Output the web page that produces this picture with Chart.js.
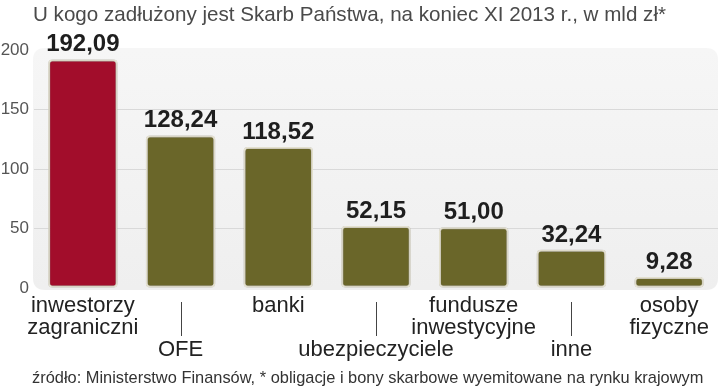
<!DOCTYPE html>
<html>
<head>
<meta charset="utf-8">
<script src="https://cdn.jsdelivr.net/npm/chart.js@4"></script>
<style>
  html, body { margin: 0; padding: 0; background: #fff; }
  #wrap { width: 720px; height: 391px; position: relative; }
</style>
</head>
<body>
<div id="wrap"><canvas id="myChart"></canvas></div>
<script>
'use strict';

let titleText = 'U kogo zadłużony jest Skarb Państwa, na koniec XI 2013 r., w mld zł*';
let sourceText = 'źródło: Ministerstwo Finansów, * obligacje i bony skarbowe wyemitowane na rynku krajowym';

let categories = ['inwestorzy zagraniczni', 'OFE', 'banki', 'ubezpieczyciele', 'fundusze inwestycyjne', 'inne', 'osoby fizyczne'];
// labels as drawn under the bars, every second one pushed down a row
let tickLabels = [
  ['inwestorzy', 'zagraniczni'],
  ['', '', 'OFE'],
  ['banki'],
  ['', '', 'ubezpieczyciele'],
  ['fundusze', 'inwestycyjne'],
  ['', '', 'inne'],
  ['osoby', 'fizyczne']
];
let debtValues = [192.09, 128.24, 118.52, 52.15, 51.00, 32.24, 9.28];
let valueLabels = ['192,09', '128,24', '118,52', '52,15', '51,00', '32,24', '9,28'];
let yTicks = [0, 50, 100, 150, 200];

let red = '#a20d2b';
let olive = '#6a6629';
let barColors = debtValues.map(function (v, i) { return i === 0 ? red : olive; });

function roundRect(ctx, x, y, w, h, r) {
  ctx.beginPath();
  ctx.moveTo(x + r, y);
  ctx.lineTo(x + w - r, y);
  ctx.quadraticCurveTo(x + w, y, x + w, y + r);
  ctx.lineTo(x + w, y + h - r);
  ctx.quadraticCurveTo(x + w, y + h, x + w - r, y + h);
  ctx.lineTo(x + r, y + h);
  ctx.quadraticCurveTo(x, y + h, x, y + h - r);
  ctx.lineTo(x, y + r);
  ctx.quadraticCurveTo(x, y, x + r, y);
  ctx.closePath();
}

let panelPlugin = {
  id: 'panel',
  beforeDraw: function (chart) {
    let ctx = chart.ctx;
    let a = chart.chartArea;
    ctx.save();
    ctx.fillStyle = '#fff';
    ctx.fillRect(0, 0, chart.width, chart.height);
    let g = ctx.createLinearGradient(0, a.top, 0, a.bottom);
    g.addColorStop(0, '#f6f6f6');
    g.addColorStop(1, '#efefef');
    ctx.fillStyle = g;
    roundRect(ctx, a.left - 1, a.top - 2, a.right - a.left + 1, a.bottom - a.top + 4, 12);
    ctx.fill();

    // title and footer
    ctx.fillStyle = '#4a4a4a';
    ctx.font = '20.6px "Liberation Sans", Arial, sans-serif';
    ctx.textBaseline = 'middle';
    ctx.textAlign = 'left';
    ctx.fillText(titleText, 33, 15);
    ctx.fillStyle = '#333';
    ctx.font = '16.4px "Liberation Sans", Arial, sans-serif';
    ctx.fillText(sourceText, 32, 378);
    ctx.restore();
  },
  beforeDatasetsDraw: function (chart) {
    let ctx = chart.ctx;
    ctx.save();
    ctx.shadowColor = 'rgba(0,0,0,0.45)';
    ctx.shadowBlur = 3;
  },
  afterDatasetsDraw: function (chart) {
    let ctx = chart.ctx;
    ctx.restore();

    // value labels over the bars
    let meta = chart.getDatasetMeta(0);
    ctx.save();
    ctx.fillStyle = '#1e1e1e';
    ctx.font = 'bold 24px "Liberation Sans", Arial, sans-serif';
    ctx.textAlign = 'center';
    ctx.textBaseline = 'alphabetic';
    for (let i = 0; i < meta.data.length; i++) {
      let bar = meta.data[i];
      ctx.fillText(valueLabels[i], bar.x, bar.y - 8);
    }

    // short separator lines over the lowered labels
    let xScale = chart.scales.x;
    ctx.strokeStyle = '#444';
    ctx.lineWidth = 1;
    for (let i = 0; i < tickLabels.length; i++) {
      if (tickLabels[i][0] !== '') continue;
      let x = Math.round(xScale.getPixelForTick(i)) + 0.5;
      ctx.beginPath();
      ctx.moveTo(x, 302);
      ctx.lineTo(x, 336);
      ctx.stroke();
    }
    ctx.restore();
  }
};

function viewChart() {
  let ctx = document.getElementById('myChart').getContext('2d');

  let chart = new Chart(ctx, {
    type: 'bar',
    data: {
      labels: tickLabels,
      datasets: [
        {
          label: 'mld zł',
          data: debtValues,
          backgroundColor: barColors,
          borderColor: '#f3efdc',
          borderWidth: 2,
          borderRadius: 4,
          borderSkipped: false,
          barPercentage: 0.71,
          categoryPercentage: 1
        }
      ]
    },
    options: {
      responsive: true,
      maintainAspectRatio: false,
      animation: false,
      devicePixelRatio: 1,
      layout: { padding: { top: 50, right: 2, left: 0, bottom: 0 } },
      plugins: {
        legend: { display: false },
        tooltip: { enabled: false },
        title: { display: false }
      },
      scales: {
        x: {
          border: { display: false },
          grid: { display: false, drawTicks: false },
          ticks: {
            color: '#222',
            padding: 7,
            autoSkip: false,
            maxRotation: 0,
            font: { family: '"Liberation Sans", Arial, sans-serif', size: 22, lineHeight: 1 }
          },
          afterFit: function (scale) { scale.height = 103; }
        },
        y: {
          min: 0,
          max: 200,
          border: { display: false },
          grid: {
            drawTicks: false,
            color: function (c) {
              return (c.tick.value === 0 || c.tick.value === 200) ? 'rgba(0,0,0,0)' : '#d9d9d9';
            }
          },
          afterBuildTicks: function (scale) {
            scale.ticks = yTicks.map(function (v) { return { value: v }; });
          },
          ticks: {
            color: '#555',
            padding: 5,
            font: { family: '"Liberation Sans", Arial, sans-serif', size: 17 }
          },
          afterFit: function (scale) { scale.width = 34; }
        }
      }
    },
    plugins: [panelPlugin]
  });
  return chart;
}

viewChart();
</script>
</body>
</html>
